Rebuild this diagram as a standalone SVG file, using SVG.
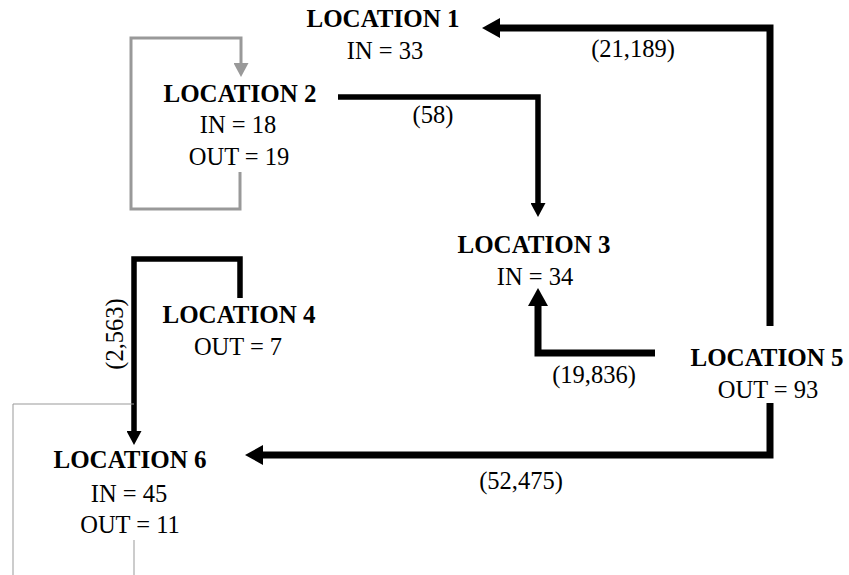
<svg xmlns="http://www.w3.org/2000/svg" width="849" height="575" viewBox="0 0 849 575">
<style>
text{font-family:"Liberation Serif","Times New Roman",serif;font-size:24.5px;fill:#000;text-anchor:middle}
.t{font-weight:bold;font-size:25px}
.e{fill:none;stroke:#000;stroke-linejoin:miter;stroke-linecap:butt}
.w{stroke-width:7}
.n{stroke-width:5.5}
.g{fill:none;stroke:#999;stroke-width:3}
.h{fill:none;stroke:#999;stroke-width:1}
</style>
<defs>
<marker id="ab" markerUnits="userSpaceOnUse" markerWidth="18" markerHeight="20" refX="0" refY="10" orient="auto"><path d="M0,0L18,10L0,20z" fill="#000"/></marker>
<marker id="as" markerUnits="userSpaceOnUse" markerWidth="14" markerHeight="15" refX="0" refY="7.5" orient="auto"><path d="M0,0L14,7.5L0,15z" fill="#000"/></marker>
<marker id="ag" markerUnits="userSpaceOnUse" markerWidth="14" markerHeight="15" refX="0" refY="7.5" orient="auto"><path d="M0,0L14,7.5L0,15z" fill="#999"/></marker>
</defs>
<g id="connectors">
<path class="e w" d="M770,326V28H500" marker-end="url(#ab)"/>
<path class="e n" d="M338,97H538V203" marker-end="url(#as)"/>
<path class="e w" d="M655,353H538V306" marker-end="url(#ab)"/>
<path class="e w" d="M770,403V455H263" marker-end="url(#ab)"/>
<path class="e n" d="M240,298V259H134V431" marker-end="url(#as)"/>
<path class="g" d="M240,172V209H131V38H241V63" marker-end="url(#ag)"/>
<path class="h" d="M134,404H13V575M134,540V575"/>
<text x="633" y="57">(21,189)</text>
<text x="433" y="123">(58)</text>
<text x="594" y="383">(19,836)</text>
<text x="521" y="489">(52,475)</text>
<text transform="translate(123,334) rotate(-90)">(2,563)</text>
</g>
<g id="location1"><text class="t" x="383" y="27">LOCATION 1</text><text x="385" y="59">IN = 33</text></g>
<g id="location2"><text class="t" x="240" y="102">LOCATION 2</text><text x="238" y="133">IN = 18</text><text x="239" y="165">OUT = 19</text></g>
<g id="location3"><text class="t" x="534" y="253">LOCATION 3</text><text x="535" y="285">IN = 34</text></g>
<g id="location4"><text class="t" x="239" y="323">LOCATION 4</text><text x="238" y="355">OUT = 7</text></g>
<g id="location5"><text class="t" x="767" y="366">LOCATION 5</text><text x="768" y="398">OUT = 93</text></g>
<g id="location6"><text class="t" x="130" y="468">LOCATION 6</text><text x="129" y="502">IN = 45</text><text x="130" y="533">OUT = 11</text></g>
</svg>
